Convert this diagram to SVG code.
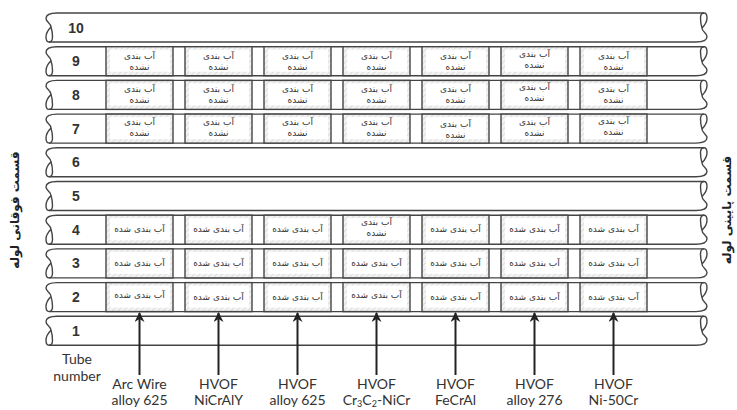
<svg xmlns="http://www.w3.org/2000/svg" xmlns:xlink="http://www.w3.org/1999/xlink" width="737" height="410" viewBox="0 0 737 410">
<style>
.tl{fill:none;stroke:#444;stroke-width:1.4}
.num{font-family:"Liberation Sans",Arial,sans-serif;font-size:14px;font-weight:bold;fill:#333;text-anchor:middle}
.fa{font-family:"DejaVu Sans","Noto Sans",sans-serif;font-size:9px;fill:#333;text-anchor:middle}
.side{font-family:"DejaVu Sans","Noto Sans",sans-serif;font-size:12px;font-weight:bold;fill:#222;text-anchor:middle}
.lab{font-family:Lato,"Liberation Sans",sans-serif;font-size:14px;fill:#333;text-anchor:middle}
.arr{stroke:#222;stroke-width:2;fill:none}
</style>
<defs>
<pattern id="hatch" patternUnits="userSpaceOnUse" width="4" height="4" patternTransform="rotate(45)">
<rect width="4" height="4" fill="#f3f3f3"/>
<line x1="0" y1="0" x2="0" y2="4" stroke="#cfcfcf" stroke-width="1.2"/>
</pattern>
<path id="brk" class="tl" d="M57,0 C50,0 46,2 46,5.5 C46,9 51,10 51,14 C52,17 52.5,21 52.5,24 C52.5,27 51,29 49,29 C47,29 46,27 46,24 C46,20 48.5,16.5 51,14"/>
<g id="tube">
<use href="#brk"/>
<use href="#brk" transform="rotate(180 376.5 14.5)"/>
<path class="tl" d="M57,0 H704 M49,29 H696"/>
</g>
<g id="cell">
<rect x="0" y="0" width="67" height="29" fill="url(#hatch)" stroke="#444" stroke-width="1.4"/>
<rect x="4" y="3" width="60" height="22" fill="#fff"/>
</g>
<marker id="ah" viewBox="0 0 10 10" refX="9" refY="5" markerWidth="5" markerHeight="5" orient="auto" markerUnits="strokeWidth">
<path d="M0,0 L10,5 L0,10 L3,5 z" fill="#222"/>
</marker>
</defs>
<rect width="737" height="410" fill="#fff"/>

<g id="tube10" transform="translate(0,13)">
<use href="#tube"/>
<text class="num" x="76" y="19.5">10</text>
</g>

<g id="tube9" transform="translate(0,46.7)">
<use href="#tube"/>
<text class="num" x="76" y="19.5">9</text>
<use href="#cell" x="106"/><use href="#cell" x="185"/><use href="#cell" x="264"/><use href="#cell" x="343"/><use href="#cell" x="422"/><use href="#cell" x="501"/><use href="#cell" x="580"/>
<g class="fa">
<text x="139.5" y="12">آب بندی</text><text x="139.5" y="23">نشده</text>
<text x="218.5" y="12">آب بندی</text><text x="218.5" y="23">نشده</text>
<text x="297.5" y="12">آب بندی</text><text x="297.5" y="23">نشده</text>
<text x="376.5" y="12">آب بندی</text><text x="376.5" y="23">نشده</text>
<text x="455.5" y="12">آب بندی</text><text x="455.5" y="23">نشده</text>
<text x="534.5" y="10">آب بندی</text><text x="534.5" y="21">نشده</text>
<text x="613.5" y="12">آب بندی</text><text x="613.5" y="23">نشده</text>
</g>
</g>

<g id="tube8" transform="translate(0,80.4)">
<use href="#tube"/>
<text class="num" x="76" y="19.5">8</text>
<use href="#cell" x="106"/><use href="#cell" x="185"/><use href="#cell" x="264"/><use href="#cell" x="343"/><use href="#cell" x="422"/><use href="#cell" x="501"/><use href="#cell" x="580"/>
<g class="fa">
<text x="139.5" y="12">آب بندی</text><text x="139.5" y="23">نشده</text>
<text x="218.5" y="12">آب بندی</text><text x="218.5" y="23">نشده</text>
<text x="297.5" y="12">آب بندی</text><text x="297.5" y="23">نشده</text>
<text x="376.5" y="12">آب بندی</text><text x="376.5" y="23">نشده</text>
<text x="455.5" y="12">آب بندی</text><text x="455.5" y="23">نشده</text>
<text x="534.5" y="10">آب بندی</text><text x="534.5" y="21">نشده</text>
<text x="613.5" y="12">آب بندی</text><text x="613.5" y="23">نشده</text>
</g>
</g>

<g id="tube7" transform="translate(0,114.1)">
<use href="#tube"/>
<text class="num" x="76" y="19.5">7</text>
<use href="#cell" x="106"/><use href="#cell" x="185"/><use href="#cell" x="264"/><use href="#cell" x="343"/><use href="#cell" x="422"/><use href="#cell" x="501"/><use href="#cell" x="580"/>
<g class="fa">
<text x="139.5" y="11">آب بندی</text><text x="139.5" y="22">نشده</text>
<text x="218.5" y="11">آب بندی</text><text x="218.5" y="22">نشده</text>
<text x="297.5" y="11">آب بندی</text><text x="297.5" y="22">نشده</text>
<text x="376.5" y="11">آب بندی</text><text x="376.5" y="22">نشده</text>
<text x="455.5" y="13">آب بندی</text><text x="455.5" y="24">نشده</text>
<text x="534.5" y="11">آب بندی</text><text x="534.5" y="22">نشده</text>
<text x="613.5" y="10">آب بندی</text><text x="613.5" y="21">نشده</text>
</g>
</g>

<g id="tube6" transform="translate(0,147.8)">
<use href="#tube"/>
<text class="num" x="76" y="19.5">6</text>
</g>

<g id="tube5" transform="translate(0,181.5)">
<use href="#tube"/>
<text class="num" x="76" y="19.5">5</text>
</g>

<g id="tube4" transform="translate(0,215.2)">
<use href="#tube"/>
<text class="num" x="76" y="19.5">4</text>
<use href="#cell" x="106"/><use href="#cell" x="185"/><use href="#cell" x="264"/><use href="#cell" x="343"/><use href="#cell" x="422"/><use href="#cell" x="501"/><use href="#cell" x="580"/>
<g class="fa">
<text x="139.5" y="17">آب بندی شده</text>
<text x="218.5" y="17">آب بندی شده</text>
<text x="297.5" y="17">آب بندی شده</text>
<text x="376.5" y="10">آب بندی</text><text x="376.5" y="21">نشده</text>
<text x="455.5" y="17">آب بندی شده</text>
<text x="534.5" y="17">آب بندی شده</text>
<text x="613.5" y="17">آب بندی شده</text>
</g>
</g>

<g id="tube3" transform="translate(0,248.9)">
<use href="#tube"/>
<text class="num" x="76" y="19.5">3</text>
<use href="#cell" x="106"/><use href="#cell" x="185"/><use href="#cell" x="264"/><use href="#cell" x="343"/><use href="#cell" x="422"/><use href="#cell" x="501"/><use href="#cell" x="580"/>
<g class="fa">
<text x="139.5" y="17">آب بندی شده</text>
<text x="218.5" y="17">آب بندی شده</text>
<text x="297.5" y="17">آب بندی شده</text>
<text x="376.5" y="17">آب بندی شده</text>
<text x="455.5" y="17">آب بندی شده</text>
<text x="534.5" y="17">آب بندی شده</text>
<text x="613.5" y="17">آب بندی شده</text>
</g>
</g>

<g id="tube2" transform="translate(0,282.6)">
<use href="#tube"/>
<text class="num" x="76" y="19.5">2</text>
<use href="#cell" x="106"/><use href="#cell" x="185"/><use href="#cell" x="264"/><use href="#cell" x="343"/><use href="#cell" x="422"/><use href="#cell" x="501"/><use href="#cell" x="580"/>
<g class="fa">
<text x="139.5" y="15">آب بندی شده</text>
<text x="218.5" y="17">آب بندی شده</text>
<text x="297.5" y="17">آب بندی شده</text>
<text x="376.5" y="15">آب بندی شده</text>
<text x="455.5" y="17">آب بندی شده</text>
<text x="534.5" y="17">آب بندی شده</text>
<text x="613.5" y="17">آب بندی شده</text>
</g>
</g>

<g id="tube1" transform="translate(0,316.3)">
<use href="#tube"/>
<text class="num" x="76" y="19.5">1</text>
</g>

<g id="side-labels">
<text class="side" transform="translate(19,210) rotate(-90)">قسمت فوقانی لوله</text>
<text class="side" transform="translate(731,210) rotate(-90)">قسمت پایینی لوله</text>
</g>

<g id="tube-number-label">
<text class="lab" x="77" y="364">Tube</text>
<text class="lab" x="77" y="381">number</text>
</g>

<g id="connectors">
<line class="arr" x1="139.5" y1="375" x2="139.5" y2="313" marker-end="url(#ah)"/>
<line class="arr" x1="218.5" y1="375" x2="218.5" y2="313" marker-end="url(#ah)"/>
<line class="arr" x1="297.5" y1="375" x2="297.5" y2="313" marker-end="url(#ah)"/>
<line class="arr" x1="376.5" y1="375" x2="376.5" y2="313" marker-end="url(#ah)"/>
<line class="arr" x1="455.5" y1="375" x2="455.5" y2="313" marker-end="url(#ah)"/>
<line class="arr" x1="534.5" y1="375" x2="534.5" y2="313" marker-end="url(#ah)"/>
<line class="arr" x1="613.5" y1="375" x2="613.5" y2="313" marker-end="url(#ah)"/>
</g>

<g id="coating-labels">
<text class="lab" x="139.5" y="389">Arc Wire</text><text class="lab" x="139.5" y="405">alloy 625</text>
<text class="lab" x="218.5" y="389">HVOF</text><text class="lab" x="218.5" y="405">NiCrAlY</text>
<text class="lab" x="297.5" y="389">HVOF</text><text class="lab" x="297.5" y="405">alloy 625</text>
<text class="lab" x="376.5" y="389">HVOF</text><text class="lab" x="376.5" y="405">Cr<tspan font-size="9" dy="2">3</tspan><tspan dy="-2">C</tspan><tspan font-size="9" dy="2">2</tspan><tspan dy="-2">-NiCr</tspan></text>
<text class="lab" x="455.5" y="389">HVOF</text><text class="lab" x="455.5" y="405">FeCrAl</text>
<text class="lab" x="534.5" y="389">HVOF</text><text class="lab" x="534.5" y="405">alloy 276</text>
<text class="lab" x="613.5" y="389">HVOF</text><text class="lab" x="613.5" y="405">Ni-50Cr</text>
</g>
</svg>
